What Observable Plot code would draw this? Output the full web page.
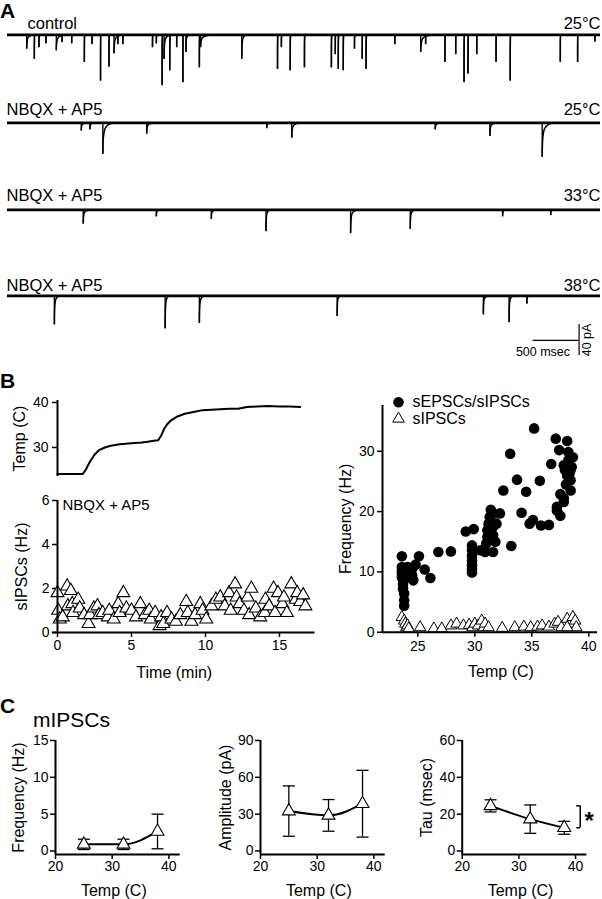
<!DOCTYPE html>
<html><head><meta charset="utf-8">
<script src="https://cdn.jsdelivr.net/npm/d3@7"></script>
<script src="https://cdn.jsdelivr.net/npm/@observablehq/plot@0.6"></script>
<style>
body{margin:0;background:#fff;}
#root{position:relative;width:602px;height:899px;background:#fff;font-family:"Liberation Sans",Arial,sans-serif;overflow:hidden;}
#root svg{position:absolute;overflow:visible;}
</style></head><body><div id="root"></div>
<script>
// ---------- Panel A: recorded traces (event time ms, amplitude pA, decay ms) ----------
const traceDuration = 6450;
const t1Times = [209,292,342,418,531,593,698,836,920,1012,1104,1159,1200,1255,1577,1619,1682,1703,1765,1840,1908,1941,2087,2100,2548,2937,2979,3075,3230,3523,3565,3598,3652,3774,3858,3900,4213,4494,4548,4758,4875,4966,5009,5104,5314,5468,6013,6201,6389];
const t1Amps  = [18,31,16,11,20,9.5,11,35,12,59,41,24,12,12,16,11,65,31,46,16,61,22,42,16,31,44,16,46,42,42,25,44,46,18,31,44,12,22,12,35,25,61,50,25,35,59,35,35,9];
const t1Decay = [90,12,12,12,110,12,12,12,12,10,10,100,12,12,12,12,10,80,10,12,10,40,10,150,60,10,12,10,10,10,12,10,10,12,12,10,12,150,12,10,12,10,10,12,10,12,10,10,12];
const t2Times = [803,895,1037,1514,2820,3092,4652,5247,5816];
const t2Amps  = [10,8.6,40,14,7,19,8.6,17,44];
const t2Decay = [60,60,140,90,60,110,80,80,140];
const t3Times = [824,1619,2217,2812,3732,4381,5385,5908];
const t3Amps  = [18,8.6,11.6,27.5,30,24.5,8.6,7];
const t3Decay = [80,40,60,50,80,60,40,40];
const t4Times = [510,1715,2087,3586,5176,5456,5649];
const t4Amps  = [37,42,35,26,24,34,10];
const t4Decay = [60,50,60,40,50,50,30];
const traceConditions = ["control","NBQX + AP5","NBQX + AP5","NBQX + AP5"];
const traceTemps = ["25°C","25°C","33°C","38°C"];
const scaleBarMs = 500, scaleBarPA = 40;

// ---------- Panel B ----------
const tempTime = [0,1.7,1.9,2.2,2.5,2.8,3.2,3.6,4.2,4.8,5.2,5.7,6.1,6.5,6.8,7.0,7.2,7.4,7.7,8.1,8.6,9.2,9.8,10.4,11.0,11.6,12.2,12.8,13.5,14.2,15.0,15.7,16.4];
const tempC    = [24.1,24.1,25.0,26.9,28.4,29.4,30.0,30.4,30.7,30.9,31.0,31.1,31.3,31.5,31.6,32.6,34.1,35.1,36.1,36.9,37.5,37.9,38.3,38.4,38.5,38.6,38.6,39.0,39.1,39.2,39.1,39.1,39.0];
const sipscTime = [0,0.05,0.15,0.35,0.65,0.7,0.9,1.0,1.05,1.4,1.5,1.8,2.1,2.2,2.45,2.7,2.8,3.05,3.4,3.5,3.8,4.1,4.2,4.45,4.65,5.0,5.3,5.6,5.9,6.2,6.3,6.6,6.9,7.0,7.15,7.4,7.7,8.0,8.3,8.7,8.8,9.05,9.3,9.65,9.8,10.05,10.4,10.7,11.0,11.3,11.6,11.7,12.0,12.1,12.3,12.6,12.85,12.95,13.1,13.4,13.7,14.0,14.05,14.3,14.6,14.7,14.9,15.2,15.3,15.5,15.8,16.1,16.2,16.4,16.6,16.75];
const sipscHz   = [1.8,1.0,0.6,0.7,2.1,1.2,1.9,1.3,0.9,1.5,1.1,0.8,0.4,0.8,1.1,1.2,0.8,0.9,0.7,1.0,0.6,1.3,0.9,1.8,1.1,1.0,0.7,1.3,0.8,1.0,0.6,0.9,0.3,0.7,0.4,0.9,0.6,0.5,0.8,1.4,0.9,0.5,0.8,1.3,1.0,0.6,1.2,1.5,1.6,1.2,1.8,1.0,2.2,1.6,1.3,1.0,1.6,0.8,2.0,1.1,0.7,0.9,1.5,1.2,2.0,0.9,1.8,1.3,1.6,0.9,2.2,1.5,1.8,1.4,1.7,1.2];
const sepscTemp = [23.6,23.6,23.6,23.6,23.6,23.7,23.7,23.7,23.8,23.8,23.8,24.1,24.1,24.1,24.5,24.5,24.6,25.1,24.8,25.6,26.1,26.8,27.9,29.2,29.9,29.75,29.75,29.75,29.75,29.75,29.75,29.75,30.5,30.9,31.0,31.1,31.1,31.2,31.3,31.4,31.6,31.6,31.6,31.8,31.6,31.9,32.2,32.5,33.2,33.1,33.7,34.1,34.5,34.8,35.2,35.1,35.7,35.8,36.5,36.7,37.1,37.2,37.4,37.5,37.5,37.2,38.1,38.2,37.8,37.9,38.1,38.4,38.2,38.4,38.5,37.8,37.8,38.4,38.6,38.3,38.0];
const sepscFreq = [12.6,10.8,10.2,9.7,9.1,8.6,8.0,7.2,6.4,5.3,4.4,10.8,10.0,9.1,10.5,9.4,8.6,12.6,11.2,10.4,9.0,13.3,13.4,16.7,17.1,14.4,13.6,12.7,11.9,11.1,10.4,9.9,13.6,13.3,14.7,15.8,16.9,18.0,19.1,20.3,19.7,17.5,16.1,15.0,13.3,18.0,19.7,23.5,14.3,29.6,25.3,19.8,23.3,18.0,33.8,18.6,25.1,17.7,17.8,27.9,32.1,20.8,30.2,22.9,19.3,20.2,31.7,29.9,27.7,26.9,26.0,25.2,28.5,23.5,27.4,22.2,21.6,26.9,29.0,26.3,24.5];
const sipscTemp2 = [23.6,23.8,23.9,24.0,24.1,24.2,25.2,26.4,27.1,27.9,28.4,29.0,29.5,29.8,30.0,30.3,30.6,30.8,30.9,31.2,32.4,33.5,34.3,34.9,35.5,35.9,36.5,37.0,37.3,37.6,38.1,38.4,38.6,38.8,38.9,38.1];
const sipscFreq2 = [2.5,1.9,1.4,0.8,1.1,0.6,0.8,0.6,0.6,1.1,1.4,1.1,1.2,0.8,1.4,1.1,1.9,0.8,1.4,0.8,0.7,0.8,0.9,0.8,0.9,1.1,0.9,1.4,1.7,0.8,2.2,1.4,2.5,1.9,0.8,0.8];
const legendLabels = ["sEPSCs/sIPSCs","sIPSCs"];

// ---------- Panel C ----------
const mTemps = [25,32,38];
const mFreqMean = [0.9,0.9,2.65], mFreqErr = [0.7,0.7,2.35];
const mAmpMean  = [32.5,29.0,38.5], mAmpErr = [20.5,12.9,27.2];
const mTauMean  = [24.5,17.3,12.6], mTauErr = [3.3,7.7,3.5];

// ---------- helpers ----------
const FONT = '"Liberation Sans", Arial, sans-serif';
const baseStyle = {fontFamily: FONT, fontSize: "14px", color: "#000", background: "none", overflow: "visible"};
const root = document.getElementById("root");
function place(svg, left, top){ svg.style.left = left + "px"; svg.style.top = top + "px"; root.appendChild(svg); }

function curveDecay(context){
  let p = [];
  return {
    areaStart(){}, areaEnd(){},
    lineStart(){ p = []; },
    point(x, y){ p.push([x, y]); },
    lineEnd(){
      if (p.length < 2) return;
      const [x0, y0] = p[0], [x1, y1] = p[p.length - 1];
      context.moveTo(x0, y0);
      context.bezierCurveTo(x0, y0 + (y1 - y0) * 0.85, x0 + (x1 - x0) * 0.12, y1, x1, y1);
    }
  };
}
const capSymbol = {draw(ctx){ ctx.moveTo(-6, 0); ctx.lineTo(6, 0); }};
const halfCap = {draw(ctx){ ctx.moveTo(-4, 0); ctx.lineTo(0, 0); }};

function tracePlot(times, amps, decays, idx, labelDx, labelDy, extra = []){
  const ev = times.map((t, i) => ({t, a: -amps[i], d: decays[i]}));
  return Plot.plot({
    width: 602, height: 83, marginTop: 0, marginBottom: 0, marginLeft: 7, marginRight: 2,
    x: {domain: [0, traceDuration], axis: null},
    y: {domain: [-82, 25], axis: null},
    style: baseStyle,
    marks: [
      Plot.ruleY([0], {x1: 0, x2: traceDuration, strokeWidth: 2.6}),
      Plot.ruleX(ev, {x: "t", y1: 0, y2: "a", strokeWidth: 1.4}),
      Plot.link(ev, {x1: "t", y1: "a", x2: d => d.t + d.d, y2: 0, curve: curveDecay, strokeWidth: 1.5}),
      Plot.text([traceConditions[idx]], {text: d => d, frameAnchor: "top-left", dx: labelDx, dy: labelDy, textAnchor: "start", lineAnchor: "middle", fontSize: 16.5}),
      Plot.text([traceTemps[idx]], {text: d => d, frameAnchor: "top-right", dy: labelDy, textAnchor: "end", lineAnchor: "middle", fontSize: 16.5}),
      ...extra
    ]
  });
}

// Panel A
place(tracePlot(t1Times, t1Amps, t1Decay, 0, 20, 8.4), 0, 15.1);
place(tracePlot(t2Times, t2Amps, t2Decay, 1, -1, 6.7), 0, 103.3);
place(tracePlot(t3Times, t3Amps, t3Decay, 2, -1, 4.9), 0, 190.1);
const barEnd = 6217, barY = -57.4;
place(tracePlot(t4Times, t4Amps, t4Decay, 3, -1, 8.9, [
  Plot.ruleY([scaleBarMs], {x1: barEnd - scaleBarMs, x2: barEnd, y: barY, strokeWidth: 1.2}),
  Plot.ruleX([scaleBarPA], {x: barEnd, y1: barY + scaleBarPA / 2 + 0.6, y2: barY - scaleBarPA / 2 + 0.6, strokeWidth: 1.2}),
  Plot.text([scaleBarMs + " msec"], {text: d => d, x: barEnd, y: barY, dx: -9, dy: 11.5, textAnchor: "end", lineAnchor: "middle", fontSize: 12.5}),
  Plot.text([scaleBarPA + " pA"], {text: d => d, x: barEnd, y: barY + 0.6, dx: 7.5, rotate: -90, textAnchor: "middle", lineAnchor: "middle", fontSize: 12.5})
]), 0, 276.1);

// Panel B – temperature
place(Plot.plot({
  width: 320, height: 100, marginLeft: 57, marginRight: 5.5, marginTop: 20, marginBottom: 4,
  x: {domain: [0, 17.4], axis: null},
  y: {domain: [23.56, 40.44]},
  style: baseStyle,
  marks: [
    Plot.axisY([30, 40], {tickSize: 5, tickPadding: 4, strokeWidth: 1.5, label: null, fontSize: 14}),
    Plot.ruleX([0], {y1: 23.56, y2: 40.44, strokeWidth: 2}),
    Plot.line(tempTime.map((t, i) => ({t, c: tempC[i]})), {x: "t", y: "c", strokeWidth: 2}),
    Plot.text(["Temp (C)"], {text: d => d, frameAnchor: "left", dx: -37.5, rotate: -90, textAnchor: "middle", lineAnchor: "middle", fontSize: 16})
  ]
}), 0, 380);

// Panel B – sIPSCs over time
place(Plot.plot({
  width: 320, height: 220, marginLeft: 57, marginRight: 5.5, marginTop: 20, marginBottom: 68,
  x: {domain: [0, 17.4]},
  y: {domain: [0, 6]},
  style: baseStyle,
  marks: [
    Plot.axisY([0, 2, 4, 6], {tickSize: 5, tickPadding: 3, strokeWidth: 1.5, label: null, fontSize: 14}),
    Plot.axisX([0, 5, 10, 15], {tickSize: 5, tickPadding: 3, strokeWidth: 1.5, label: null, fontSize: 14}),
    Plot.dot(sipscTime.map((t, i) => ({t, f: sipscHz[i]})), {x: "t", y: "f", symbol: "triangle", r: 4.8, fill: "white", stroke: "black", strokeWidth: 1.1}),
    Plot.ruleX([0], {y1: 0, y2: 6, strokeWidth: 2}),
    Plot.ruleY([0], {x1: -0.35, x2: 17.4, strokeWidth: 2}),
    Plot.text(["NBQX + AP5"], {text: d => d, frameAnchor: "top-left", dx: 5, dy: 5, textAnchor: "start", lineAnchor: "middle", fontSize: 15}),
    Plot.text(["sIPSCs (Hz)"], {text: d => d, frameAnchor: "left", dx: -35.5, rotate: -90, textAnchor: "middle", lineAnchor: "middle", fontSize: 16}),
    Plot.text(["Time (min)"], {text: d => d, frameAnchor: "bottom", dx: -12, dy: 40, textAnchor: "middle", lineAnchor: "middle", fontSize: 16})
  ]
}), 0, 480);

// Panel B – frequency vs temperature
place(Plot.plot({
  width: 302, height: 320, marginLeft: 82, marginRight: 5, marginTop: 25, marginBottom: 68.3,
  x: {domain: [21.9, 40.76]},
  y: {domain: [0, 37.6]},
  style: baseStyle,
  marks: [
    Plot.axisY([0, 10, 20, 30], {tickSize: 5, tickPadding: 3, strokeWidth: 1.5, label: null, fontSize: 14}),
    Plot.axisX([25, 30, 35, 40], {tickSize: 5, tickPadding: 4, strokeWidth: 1.5, label: null, fontSize: 14}),
    Plot.dot(sipscTemp2.map((t, i) => ({t, f: sipscFreq2[i]})), {x: "t", y: "f", symbol: "triangle", r: 4.3, fill: "white", stroke: "black", strokeWidth: 1}),
    Plot.dot(sepscTemp.map((t, i) => ({t, f: sepscFreq[i]})), {x: "t", y: "f", r: 5.3, fill: "black", stroke: "none"}),
    Plot.ruleX([21.9], {y1: 0, y2: 37.6, strokeWidth: 2}),
    Plot.ruleY([0], {x1: 21.9, x2: 40.76, strokeWidth: 2}),
    Plot.dot([legendLabels[0]], {frameAnchor: "top-left", dx: 16, dy: -3.3, r: 5.3, fill: "black", stroke: "none"}),
    Plot.dot([legendLabels[1]], {frameAnchor: "top-left", dx: 16, dy: 13.3, r: 4.3, symbol: "triangle", fill: "white", stroke: "black", strokeWidth: 1}),
    Plot.text([legendLabels[0]], {text: d => d, frameAnchor: "top-left", dx: 30, dy: -3.3, textAnchor: "start", lineAnchor: "middle", fontSize: 16}),
    Plot.text([legendLabels[1]], {text: d => d, frameAnchor: "top-left", dx: 30, dy: 13.3, textAnchor: "start", lineAnchor: "middle", fontSize: 16}),
    Plot.text(["Frequency (Hz)"], {text: d => d, frameAnchor: "left", dx: -37, rotate: -90, textAnchor: "middle", lineAnchor: "middle", fontSize: 16}),
    Plot.text(["Temp (C)"], {text: d => d, frameAnchor: "bottom", dx: 11, dy: 40, textAnchor: "middle", lineAnchor: "middle", fontSize: 16})
  ]
}), 300, 380);

// Panel C
function cPlot(left, mLeft, yDomain, yTicks, means, errs, ylabel, ylabelDx, extra = []){
  const d = mTemps.map((t, i) => ({t, m: means[i], lo: means[i] - errs[i], hi: means[i] + errs[i]}));
  return place(Plot.plot({
    width: 200, height: 180, marginLeft: mLeft, marginRight: 200 - mLeft - 124.7, marginTop: 20, marginBottom: 46,
    x: {domain: [20, 42]},
    y: {domain: yDomain},
    style: baseStyle,
    marks: [
      Plot.axisY(yTicks, {tickSize: 5, tickPadding: 2, strokeWidth: 1.5, label: null, fontSize: 14}),
      Plot.axisX([20, 30, 40], {tickSize: 5, tickPadding: 1.5, strokeWidth: 1.5, label: null, fontSize: 14}),
      Plot.ruleX(d, {x: "t", y1: "lo", y2: "hi", strokeWidth: 1.3}),
      Plot.dot(d, {x: "t", y: "hi", symbol: capSymbol, fill: "none", stroke: "black", strokeWidth: 1.3}),
      Plot.dot(d, {x: "t", y: "lo", symbol: capSymbol, fill: "none", stroke: "black", strokeWidth: 1.3}),
      Plot.line(d, {x: "t", y: "m", curve: "monotone-x", strokeWidth: 2}),
      Plot.dot(d, {x: "t", y: "m", symbol: "triangle", r: 4.8, fill: "white", stroke: "black", strokeWidth: 1.1}),
      Plot.ruleX([20], {y1: yDomain[0], y2: yTicks[yTicks.length - 1], strokeWidth: 2}),
      Plot.ruleY([yDomain[0]], {x1: 20, x2: 42, strokeWidth: 2}),
      Plot.text([ylabel], {text: s => s, frameAnchor: "left", dx: ylabelDx, rotate: -90, textAnchor: "middle", lineAnchor: "middle", fontSize: 16}),
      Plot.text(["Temp (C)"], {text: s => s, frameAnchor: "bottom", dx: -4, dy: 36, textAnchor: "middle", lineAnchor: "middle", fontSize: 16}),
      ...extra
    ]
  }), left, 720);
}
cPlot(0, 55, [-0.475, 15], [0, 5, 10, 15], mFreqMean, mFreqErr, "Frequency (Hz)", -37);
cPlot(200, 60, [-2.85, 90], [0, 30, 60, 90], mAmpMean, mAmpErr, "Amplitude (pA)", -35);
const sigLabel = "*";
cPlot(400, 61.7, [-1.9, 60], [0, 20, 40, 60], mTauMean, mTauErr, "Tau (msec)", -35, [
  Plot.ruleX([sigLabel], {x: mTemps[2], y1: mTauMean[2], y2: mTauMean[0], dx: 16, strokeWidth: 1.5}),
  Plot.dot([mTauMean[0], mTauMean[2]], {x: mTemps[2], y: v => v, dx: 16, symbol: halfCap, fill: "none", stroke: "black", strokeWidth: 1.5}),
  Plot.text([sigLabel], {text: s => s, x: mTemps[2], y: (mTauMean[0] + mTauMean[2]) / 2, dx: 25, dy: 4, fontSize: 24, fontWeight: "bold"})
]);

// Panel letters and title
const ns = "http://www.w3.org/2000/svg";
const ov = document.createElementNS(ns, "svg");
ov.setAttribute("width", 602); ov.setAttribute("height", 899);
ov.style.left = "0px"; ov.style.top = "0px"; ov.style.pointerEvents = "none";
[["A", 0, 17.5, 21, "bold"], ["B", 0, 388, 21, "bold"], ["C", 0, 713, 21, "bold"], ["mIPSCs", 33, 727, 21, "normal"]].forEach(([s, x, y, fs, fw]) => {
  const t = document.createElementNS(ns, "text");
  t.setAttribute("x", x); t.setAttribute("y", y);
  t.setAttribute("font-family", FONT); t.setAttribute("font-size", fs); t.setAttribute("font-weight", fw);
  t.textContent = s; ov.appendChild(t);
});
root.appendChild(ov);
</script></body></html>
